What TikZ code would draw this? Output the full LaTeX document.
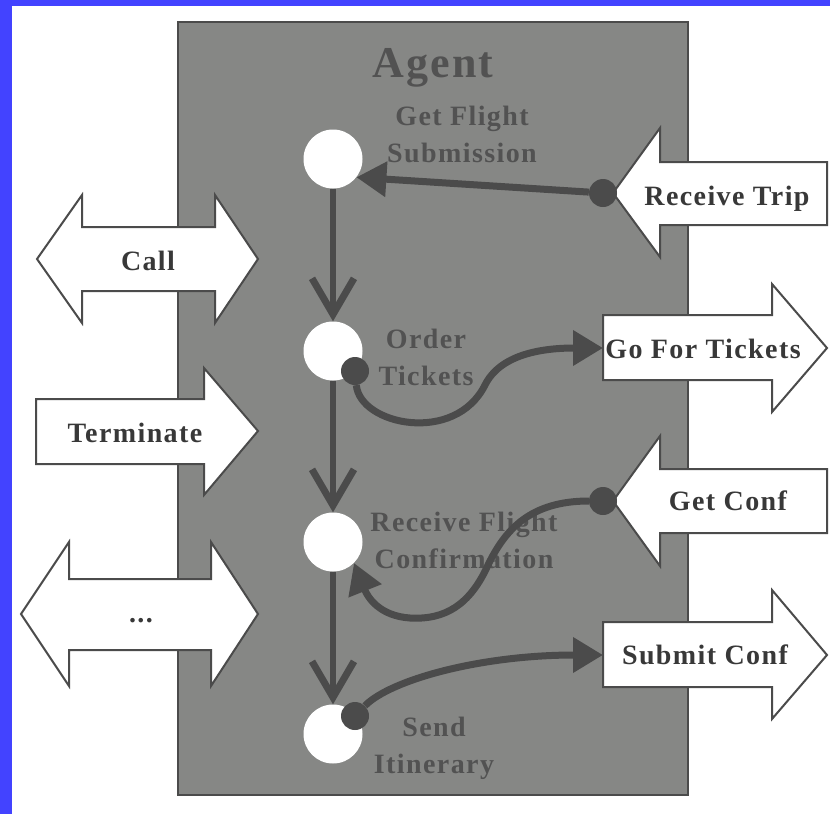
\documentclass[tikz,border=0pt]{standalone}
\usepackage{fontspec}
\setmainfont{Liberation Serif}
\newfontfamily\lblfont[LetterSpace=5]{Liberation Serif}
\usepackage{tikz}
\usetikzlibrary{arrows.meta}
\definecolor{Frame}{HTML}{4343FF}
\definecolor{AgentGrey}{HTML}{868785}
\definecolor{Ink}{HTML}{4B4B4B}
\definecolor{LabelGrey}{HTML}{525252}
\definecolor{PortInk}{HTML}{383838}

\begin{document}
\begin{tikzpicture}[x=1pt, y=-1pt,
  stcirc/.style={circle, fill=white, minimum size=59pt, inner sep=0pt},
  portdot/.style={circle, fill=Ink, minimum size=28pt, inner sep=0pt},
  port/.style={draw=Ink, fill=white, line width=2pt, line join=miter},
  statelbl/.style={font=\lblfont\bfseries\fontsize{28}{37}\selectfont, text=LabelGrey, align=center, inner sep=0pt},
  portlbl/.style={font=\lblfont\bfseries\fontsize{28}{34}\selectfont, text=PortInk, anchor=base, inner sep=0pt},
  seq/.style={draw=Ink, line width=6pt, -{Straight Barb[length=36pt, width=42pt, line width=7pt]}},
  flow/.style={draw=Ink, line width=7pt, -{Triangle[length=30pt, width=34pt]}}]
  \useasboundingbox (0,0) rectangle (830,814);
  \fill[white] (0,0) rectangle (830,814);
  \fill[Frame] (0,0) rectangle (830,6);
  \fill[Frame] (0,0) rectangle (12,814);

  % agent
  \node[draw=Ink, fill=AgentGrey, line width=2.5pt, minimum width=510pt,
        minimum height=773pt, inner sep=0pt] (agent) at (433,408.5) {};
  \node[font=\lblfont\bfseries\fontsize{44}{50}\selectfont, text=LabelGrey,
        anchor=base] (title) at (433,77) {Agent};

  % ports on the left
  \draw[port] (37,259) -- (82,195) -- (82,227) -- (215,227) -- (215,195) -- (258,259)
              -- (215,323) -- (215,291) -- (82,291) -- (82,323) -- cycle;
  \draw[port] (36,399) -- (204,399) -- (204,368) -- (258,431) -- (204,495)
              -- (204,464) -- (36,464) -- cycle;
  \draw[port] (21,614) -- (69,542) -- (69,579) -- (211,579) -- (211,542) -- (258,614)
              -- (211,686) -- (211,650) -- (69,650) -- (69,686) -- cycle;
  \node[portlbl] (call) at (148,270) {Call};
  \node[portlbl] (term) at (135,442) {Terminate};
  \node[portlbl] (more) at (141,622) {...};

  % ports on the right
  \draw[port] (613,193) -- (660,128) -- (660,162) -- (827,162) -- (827,225)
              -- (660,225) -- (660,257) -- cycle;
  \draw[port] (603,315) -- (772,315) -- (772,284) -- (827,348) -- (772,412)
              -- (772,380) -- (603,380) -- cycle;
  \draw[port] (613,501) -- (660,436) -- (660,469) -- (827,469) -- (827,533)
              -- (660,533) -- (660,566) -- cycle;
  \draw[port] (603,622) -- (772,622) -- (772,590) -- (827,655) -- (772,719)
              -- (772,687) -- (603,687) -- cycle;
  \node[portlbl] (rtrip) at (727,205) {Receive Trip};
  \node[portlbl] (gotix) at (703,358) {Go For Tickets};
  \node[portlbl] (gconf) at (728,510) {Get Conf};
  \node[portlbl] (sconf) at (705,664) {Submit Conf};
  \coordinate (gotixin) at (603,348);
  \coordinate (sconfin) at (603,655);

  % states
  \node[statelbl] (l1) at (462,134) {Get Flight\\Submission};
  \node[statelbl] (l2) at (426,357) {Order\\Tickets};
  \node[statelbl] (l3) at (464,540) {Receive Flight\\Confirmation};
  \node[statelbl] (l4) at (434,748) {Send\\Itinerary};
  \node[stcirc] (s1) at (333,159) {};
  \node[stcirc] (s2) at (333,351) {};
  \node[stcirc] (s3) at (333,542) {};
  \node[stcirc] (s4) at (333,734) {};

  % dots
  \node[portdot] (d1) at (603,193) {};
  \node[portdot] (d2) at (355,371) {};
  \node[portdot] (d3) at (603,501) {};
  \node[portdot] (d4) at (355,716) {};

  % transitions
  \draw[seq] (s1) -- (s2);
  \draw[seq] (s2) -- (s3);
  \draw[seq] (s3) -- (s4);

  % messages
  \draw[flow] (d1) -- (s1.-38);
  \draw[flow] (d2) .. controls (360,425) and (455,445) .. (485,385)
              .. controls (500,355) and (540,348) .. (gotixin);
  \draw[flow] (d3) .. controls (530,501) and (505,530) .. (488,565)
              .. controls (470,605) and (445,620) .. (410,618)
              .. controls (380,616) and (368,598) .. (s3.-45);
  \draw[flow] (d4) .. controls (390,680) and (480,655) .. (sconfin);
\end{tikzpicture}
\end{document}
